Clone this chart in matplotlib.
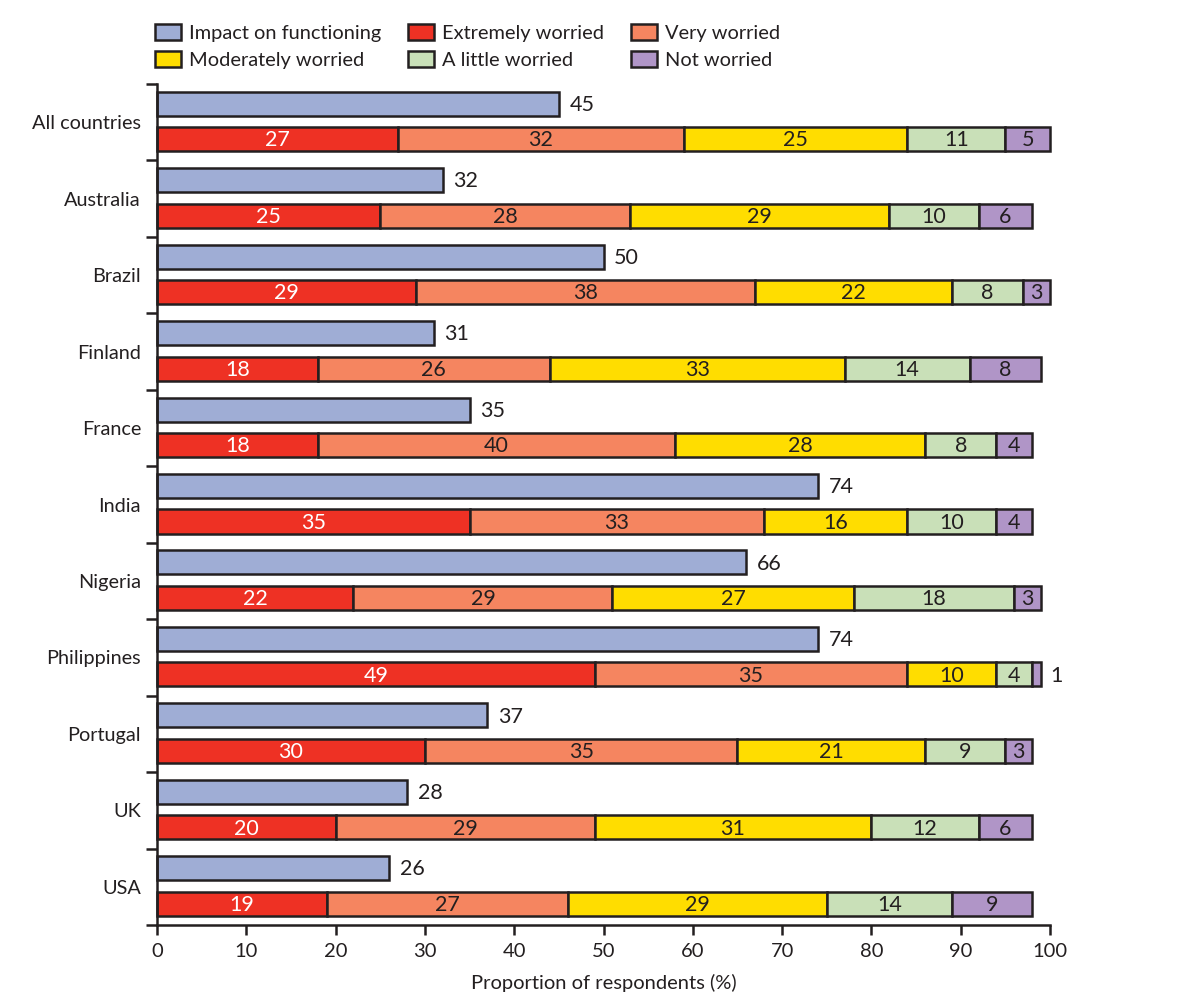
import matplotlib
matplotlib.use("Agg")
import matplotlib.pyplot as plt
from matplotlib.patches import Patch

countries = ["All countries", "Australia", "Brazil", "Finland", "France", "India",
             "Nigeria", "Philippines", "Portugal", "UK", "USA"]
impact = [45, 32, 50, 31, 35, 74, 66, 74, 37, 28, 26]
extremely = [27, 25, 29, 18, 18, 35, 22, 49, 30, 20, 19]
very = [32, 28, 38, 26, 40, 33, 29, 35, 35, 29, 27]
moderately = [25, 29, 22, 33, 28, 16, 27, 10, 21, 31, 29]
little = [11, 10, 8, 14, 8, 10, 18, 4, 9, 12, 14]
not_worried = [5, 6, 3, 8, 4, 4, 3, 1, 3, 6, 9]
xticks = [0, 10, 20, 30, 40, 50, 60, 70, 80, 90, 100]

INK = "#231F20"
COL = {"Impact on functioning": "#9FADD5", "Extremely worried": "#EE3124",
       "Very worried": "#F58560", "Moderately worried": "#FFDD00",
       "A little worried": "#C9E0B8", "Not worried": "#B095C7"}
plt.rcParams["font.family"] = ["Lato", "DejaVu Sans"]
FS = 14.3
NUM = 15.5

W, H = 1183, 1001
fig = plt.figure(figsize=(W/100, H/100), dpi=100)
L, R, T, B = 157, 1050, 84, 925
ax = fig.add_axes([L/W, 1-B/H, (R-L)/W, (B-T)/H])
ax.set_xlim(0, 100)
ax.set_ylim(11, 0)
for s in ("top", "right"):
    ax.spines[s].set_visible(False)
for s in ("left", "bottom"):
    ax.spines[s].set_linewidth(1.8)
    ax.spines[s].set_color(INK)

h = 0.315
off1, off2 = -0.242, 0.222
dy = 0.016
lw = 1.8
for i, c in enumerate(countries):
    ax.barh(i+0.5+off1, impact[i], height=h, color=COL["Impact on functioning"],
            edgecolor=INK, linewidth=lw, clip_on=False)
    ax.text(impact[i]+1.2, i+0.5+off1+dy, str(impact[i]), va="center", ha="left",
            fontsize=NUM, color=INK)
    left = 0
    segs = [("Extremely worried", extremely), ("Very worried", very),
            ("Moderately worried", moderately), ("A little worried", little),
            ("Not worried", not_worried)]
    for name, arr in segs:
        v = arr[i]
        ax.barh(i+0.5+off2, v, left=left, height=h, color=COL[name],
                edgecolor=INK, linewidth=lw, clip_on=False)
        if v == 1:
            ax.text(left+v+1.0, i+0.5+off2+dy, str(v), va="center", ha="left",
                    fontsize=NUM, color=INK, clip_on=False)
        else:
            ax.text(left+v/2, i+0.5+off2+dy, str(v), va="center", ha="center", fontsize=NUM,
                    color="white" if name == "Extremely worried" else INK)
        left += v

ax.set_xticks(xticks)
ax.set_yticks(range(12))
ax.set_yticklabels([])
ax.set_yticks([i+0.5 for i in range(11)], countries, minor=True)
ax.tick_params(axis="x", length=7.2, width=1.8, color=INK, labelsize=14.5, labelcolor=INK, pad=6)
ax.tick_params(axis="y", which="major", length=8, width=1.8, color=INK)
ax.tick_params(axis="y", which="minor", length=0, labelsize=FS, labelcolor=INK, pad=11.5)
ax.set_xlabel("Proportion of respondents (%)", fontsize=14.5, color=INK, labelpad=10)

order = ["Impact on functioning", "Moderately worried", "Extremely worried",
         "A little worried", "Very worried", "Not worried"]
handles = [Patch(facecolor=COL[n], edgecolor=INK, linewidth=1.8, label=n) for n in order]
fig.legend(handles=handles, ncol=3, loc="upper left", bbox_to_anchor=(155/W, 1-24/H),
           frameon=False, fontsize=14.4, labelcolor=INK, handlelength=1.3, handleheight=0.85,
           handletextpad=0.4, columnspacing=1.35, labelspacing=0.46, borderpad=0,
           borderaxespad=0)
fig.savefig("out.png", dpi=100)
